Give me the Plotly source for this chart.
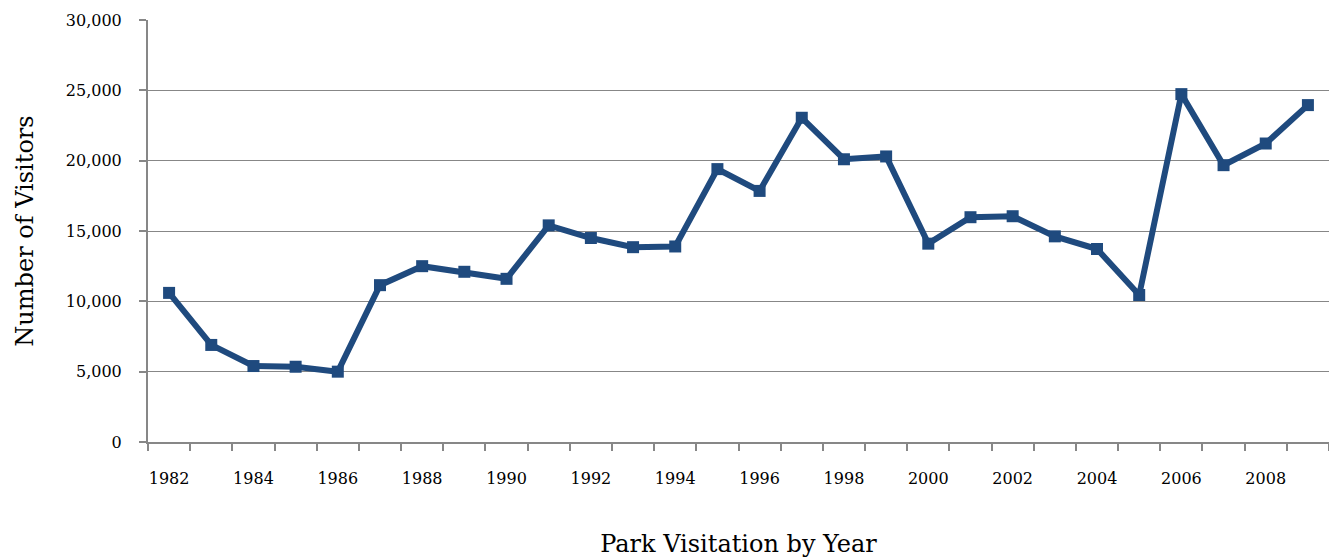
import plotly.graph_objects as go

years = [str(y) for y in range(1982, 2010)]
visitors = [10600, 6900, 5400, 5350, 5000, 11150, 12500, 12100, 11600, 15400,
            14500, 13850, 13900, 19400, 17850, 23050, 20100, 20300, 14100, 15980,
            16050, 14620, 13720, 10450, 24730, 19680, 21220, 23950]
tick_text = [y if i % 2 == 0 else "" for i, y in enumerate(years)]
y_ticks = [0, 5000, 10000, 15000, 20000, 25000, 30000]
y_tick_text = ["0", "5,000", "10,000", "15,000", "20,000", "25,000", "30,000"]

font_family = "DejaVu Serif, Liberation Serif, serif"
grey = "#878787"

fig = go.Figure(go.Scatter(
    x=years, y=visitors, mode="lines+markers",
    line=dict(color="#1F4A7E", width=6),
    marker=dict(symbol="square", size=12, color="#1F4A7E"),
    cliponaxis=False,
))

fig.update_layout(
    width=1329, height=558,
    margin=dict(l=148, r=0, t=20, b=116),
    paper_bgcolor="white", plot_bgcolor="white",
    showlegend=False,
    font=dict(family=font_family, color="black"),
    xaxis=dict(
        type="category", tickson="boundaries",
        tickvals=years, ticktext=tick_text, tickangle=0, automargin=False,
        ticks="outside", ticklen=7, tickwidth=2, tickcolor=grey,
        showline=True, linecolor=grey, linewidth=2,
        showgrid=False, tickfont=dict(size=16, family=font_family),
        ticklabelstandoff=21,
        title=dict(text="Park Visitation by Year", font=dict(size=24, family=font_family), standoff=50),
        range=[-0.5, 27.5],
    ),
    yaxis=dict(
        range=[0, 30000], tickvals=y_ticks, ticktext=y_tick_text, automargin=False,
        ticks="outside", ticklen=7, tickwidth=2, tickcolor=grey,
        showline=True, linecolor=grey, linewidth=2,
        showgrid=True, gridcolor=grey, gridwidth=1,
        zeroline=False, tickfont=dict(size=16, family=font_family),
        ticklabelstandoff=14,
        title=dict(text="Number of Visitors", font=dict(size=24, family=font_family), standoff=25),
    ),
)

fig.write_html("out.html")
